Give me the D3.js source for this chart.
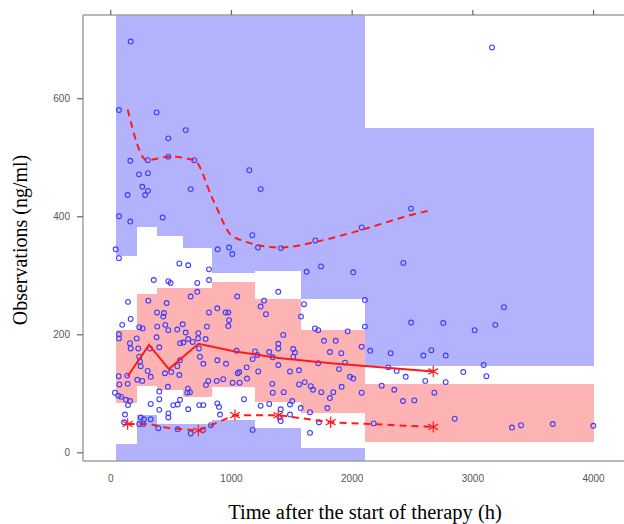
<!DOCTYPE html>
<html>
<head>
<meta charset="utf-8">
<script src="https://cdn.jsdelivr.net/npm/d3@7"></script>
<style>
body { margin: 0; background: #fff; }
</style>
</head>
<body>
<script>

//time bins (h)
var binEdges = [45, 219, 389, 600, 840, 1199, 1580, 2110, 4005];

//95% CI of simulated 95th percentile
var p95Lo = [333, 381, 367, 346, 303, 308, 260, 146];
var p95Hi = [800, 800, 800, 800, 800, 800, 800, 550];
//95% CI of simulated median
var p50Lo = [84, 113, 106, 94, 111, 86, 67, 17];
var p50Hi = [208, 268, 278, 278, 288, 260, 208, 116];
//95% CI of simulated 5th percentile
var p05Lo = [-60, -60, -60, -60, -60, -60, -60, -60];
var p05Hi = [14, 63, 48, 48, 55, 41, 8, -20];

//observed percentiles
var pctTime = [144, 321, 486, 730, 1033, 1392, 1826, 2676];
var obsMedian = [129, 182, 141, 184, 171, 160, 151, 137];
var obsP05 = [48, 48, 41, 37, 63, 63, 51, 43];
var p05Star = [true, false, false, true, true, true, true, true];
var medStar = [false, false, false, false, false, false, false, true];

//observed 95th percentile (smoothed)
var p95Time = [144, 302, 486, 696, 853, 1019, 1406, 1710, 2083, 2491, 2630];
var obsP95 = [581, 495, 501, 495, 427, 365, 347, 357, 377, 402, 409];

//observations
var obsTime = [
    169, 72, 384, 625, 481, 166, 310, 481, 696, 238, 312, 1152, 265, 312, 288, 144, 666, 1246, 72, 166,
    434, 1177, 1699, 45, 890, 984, 1011, 1224, 1414, 72,
    3163, 2083, 2492,
    1627, 1746, 2013, 2428, 2110, 1605, 1580, 3262, 2492, 2759, 3019, 3190, 2110, 1967, 1696, 1723, 1771, 1868,
    1820, 1914, 2083, 2154, 2323, 2594, 2660, 2779, 1723, 1945, 1895, 2304, 2373, 2448, 2925, 3094, 3116, 1986,
    2013, 2610, 2779, 1611, 1661, 1680, 1748, 1917, 2249, 2353, 1848, 1820, 2083, 2685, 2425, 2519, 1798, 1578,
    1655, 2854, 1729, 2183, 1655, 3328, 3403, 3666, 4002,
    572, 646, 818, 818, 360, 481, 500, 721, 721, 666, 1052, 147, 315, 467, 887, 956, 978, 818, 387, 445,
    169, 99, 240, 268, 439, 456, 389, 481, 555, 600, 625, 729, 801, 984, 978, 72, 72, 219, 163, 329,
    384, 406, 578, 605, 646, 683, 727, 790, 1047, 169, 232, 240, 246, 252, 310, 335, 224, 265, 453, 505,
    555, 572, 578, 735, 743, 771, 887, 959, 1056, 1069, 1130, 882, 936, 1014, 1072, 1133, 793, 812, 478, 644,
    660, 638, 70, 75, 144, 141, 39, 66, 89, 130, 163, 147, 406, 406, 335, 406, 481, 481, 522, 558,
    578, 737, 771, 646, 887, 901, 909, 1108, 122, 252, 279, 335, 114, 240, 273, 398, 558, 666, 768, 834,
    1392, 1274, 1246, 1290, 1433, 1392, 1392, 1516, 1530, 1516, 1199, 1180, 1218, 1317, 1346, 1392, 1226, 1489, 1564, 1564,
    1342, 1346, 1437, 1246, 1317, 1412, 1489, 1508, 1400, 1489, 1412, 1180
];
var obsConc = [
    696, 580, 576, 546, 532, 494, 495, 501, 495, 471, 473, 478, 450, 443, 436, 436, 446, 446, 400, 391,
    398, 368, 359, 344, 344, 347, 336, 347, 346, 329,
    686, 381, 413,
    306, 315, 305, 321, 258, 251, 230, 246, 220, 219, 207, 216, 213, 205, 210, 207, 189, 189,
    170, 168, 179, 172, 168, 164, 173, 164, 151, 152, 141, 144, 138, 128, 136, 148, 129, 128,
    125, 121, 119, 119, 112, 106, 102, 111, 113, 106, 102, 92, 101, 101, 87, 88, 75, 75,
    68, 57, 51, 49, 33, 42, 46, 48, 45,
    320, 317, 310, 292, 292, 290, 287, 287, 272, 264, 264, 255, 257, 253, 244, 237, 237, 237, 237, 236,
    226, 216, 212, 210, 230, 216, 213, 207, 208, 217, 203, 202, 213, 224, 214, 200, 193, 193, 185, 176,
    195, 178, 185, 186, 192, 187, 193, 192, 172, 176, 176, 162, 154, 146, 138, 128, 123, 121, 134, 136,
    146, 131, 156, 176, 162, 150, 156, 150, 134, 136, 144, 121, 124, 118, 118, 125, 114, 121, 111, 108,
    102, 101, 129, 115, 116, 130, 101, 96, 94, 89, 87, 80, 103, 90, 82, 72, 66, 59, 80, 81,
    89, 80, 80, 73, 83, 77, 64, 90, 64, 59, 56, 56, 51, 48, 48, 41, 39, 32, 38, 46,
    272, 257, 247, 234, 199, 184, 176, 175, 169, 162, 171, 158, 165, 170, 161, 148, 137, 137, 139, 115,
    116, 101, 102, 79, 82, 73, 81, 87, 60, 64, 53, 38
];

var yTicks = [0, 200, 400, 600];
var xTicks = [0, 1000, 2000, 3000, 4000];

drawChart();

function drawChart(){

    var width = 624,
        height = 524;

    var left = 83, right = 640, top = 15, bottom = 461;

    var svg = d3.select("body")
        .append("svg")
        .attr("width", width)
        .attr("height", height);

    //scales
    var x = d3.scaleLinear()
        .domain([-226, 4389])
        .range([left, right]);

    var y = d3.scaleLinear()
        .domain([-14.7, 741])
        .range([bottom, top]);

    svg.append("clipPath")
        .attr("id", "panel")
        .append("rect")
        .attr("x", left)
        .attr("y", top)
        .attr("width", right - left)
        .attr("height", bottom - top);

    var plot = svg.append("g")
        .attr("clip-path", "url(#panel)");

    //shaded prediction intervals per bin
    var bands = [
        {lo: p95Lo, hi: p95Hi, fill: "#b3b3fd"},
        {lo: p50Lo, hi: p50Hi, fill: "#fdb3b3"},
        {lo: p05Lo, hi: p05Hi, fill: "#b3b3fd"}
    ];
    bands.forEach(function(band){
        plot.append("g")
            .attr("shape-rendering", "crispEdges")
            .selectAll("rect")
            .data(d3.range(binEdges.length - 1))
            .enter()
            .append("rect")
            .attr("x", function(i){ return Math.round(x(binEdges[i])); })
            .attr("width", function(i){ return Math.round(x(binEdges[i + 1])) - Math.round(x(binEdges[i])); })
            .attr("y", function(i){ return y(band.hi[i]); })
            .attr("height", function(i){ return Math.max(0, y(band.lo[i]) - y(band.hi[i])); })
            .attr("fill", band.fill);
    });

    //observations
    plot.append("g")
        .selectAll("circle")
        .data(d3.range(obsTime.length))
        .enter()
        .append("circle")
        .attr("cx", function(i){ return x(obsTime[i]); })
        .attr("cy", function(i){ return y(obsConc[i]); })
        .attr("r", 2.4)
        .attr("fill", "none")
        .attr("stroke", "#3c3cff")
        .attr("stroke-width", 1.1);

    //observed percentile lines
    var line = d3.line()
        .x(function(d){ return x(d[0]); })
        .y(function(d){ return y(d[1]); });

    plot.append("path")
        .datum(d3.zip(pctTime, obsMedian))
        .attr("d", line)
        .attr("fill", "none")
        .attr("stroke", "#ff1a1a")
        .attr("stroke-width", 2);

    plot.append("path")
        .datum(d3.zip(pctTime, obsP05))
        .attr("d", line)
        .attr("fill", "none")
        .attr("stroke", "#ff1a1a")
        .attr("stroke-width", 2)
        .attr("stroke-dasharray", "7,5");

    plot.append("path")
        .datum(d3.zip(p95Time, obsP95))
        .attr("d", line.curve(d3.curveMonotoneX))
        .attr("fill", "none")
        .attr("stroke", "#ff1a1a")
        .attr("stroke-width", 2)
        .attr("stroke-dasharray", "7,5");

    var star = d3.symbol().type(d3.symbolAsterisk).size(90);
    var stars = [];
    pctTime.forEach(function(t, i){
        if (p05Star[i]) stars.push([t, obsP05[i]]);
        if (medStar[i]) stars.push([t, obsMedian[i]]);
    });
    plot.append("g")
        .selectAll("path")
        .data(stars)
        .enter()
        .append("path")
        .attr("d", star)
        .attr("transform", function(d){ return "translate(" + x(d[0]) + "," + y(d[1]) + ")"; })
        .attr("fill", "none")
        .attr("stroke", "#ff1a1a")
        .attr("stroke-width", 1.2);

    //frame
    var frame = svg.append("g")
        .attr("stroke", "#a0a0a0")
        .attr("stroke-width", 1.5);
    frame.append("line").attr("x1", left).attr("x2", left).attr("y1", top).attr("y2", bottom);
    frame.append("line").attr("x1", left).attr("x2", width).attr("y1", top).attr("y2", top);
    frame.append("line").attr("x1", left).attr("x2", width).attr("y1", bottom).attr("y2", bottom);

    //axes
    var yAxis = svg.append("g")
        .attr("transform", "translate(" + left + ",0)")
        .call(d3.axisLeft(y).tickValues(yTicks).tickSize(6).tickPadding(7).tickFormat(d3.format("d")));

    var xAxis = svg.append("g")
        .attr("transform", "translate(0," + bottom + ")")
        .call(d3.axisBottom(x).tickValues(xTicks).tickSize(0).tickPadding(14).tickFormat(d3.format("d")));

    var topAxis = svg.append("g")
        .attr("transform", "translate(0," + top + ")")
        .call(d3.axisTop(x).tickValues(xTicks).tickSize(5).tickFormat(""));

    [yAxis, xAxis, topAxis].forEach(function(g){
        g.select(".domain").remove();
        g.selectAll(".tick line").attr("stroke", "#666").attr("stroke-width", 1.2);
        g.selectAll("text")
            .attr("fill", "#555")
            .style("font-family", "'Liberation Sans', Arial, sans-serif")
            .style("font-size", "10px");
    });

    //axis titles
    svg.append("text")
        .attr("transform", "translate(27,240) rotate(-90)")
        .attr("text-anchor", "middle")
        .style("font-family", "'Liberation Serif', 'Times New Roman', serif")
        .style("font-size", "20px")
        .text("Observations (ng/ml)");

    svg.append("text")
        .attr("x", 365)
        .attr("y", 519)
        .attr("text-anchor", "middle")
        .style("font-family", "'Liberation Serif', 'Times New Roman', serif")
        .style("font-size", "20.5px")
        .text("Time after the start of therapy (h)");
};
</script>
</body>
</html>
